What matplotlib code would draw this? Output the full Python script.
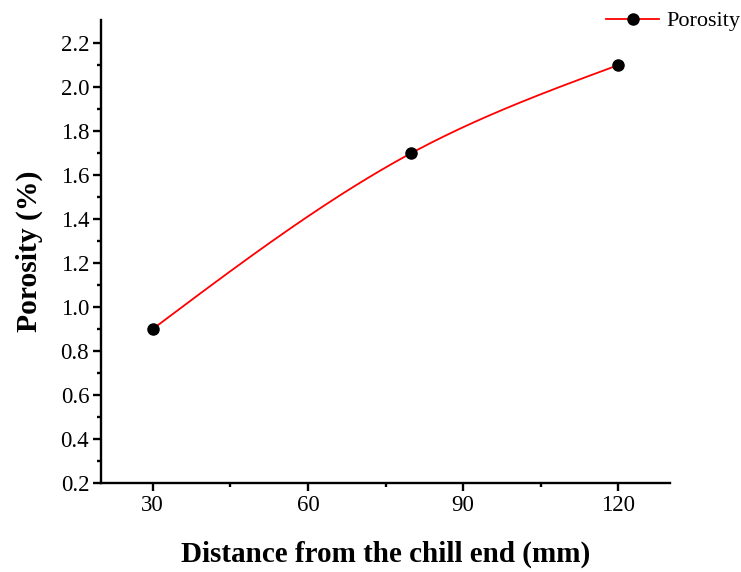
import numpy as np
import matplotlib
matplotlib.use("Agg")
import matplotlib.pyplot as plt

distance = [30, 80, 120]
porosity = [0.9, 1.7, 2.1]
x_ticks = [30, 60, 90, 120]
y_ticks = [0.2, 0.4, 0.6, 0.8, 1.0, 1.2, 1.4, 1.6, 1.8, 2.0, 2.2]

plt.rcParams['font.family'] = ['Liberation Serif', 'DejaVu Serif']


def natural_spline(x, y, xs):
    x = np.asarray(x, float)
    y = np.asarray(y, float)
    n = len(x)
    h = np.diff(x)
    A = np.zeros((n, n))
    b = np.zeros(n)
    A[0, 0] = A[-1, -1] = 1
    for i in range(1, n - 1):
        A[i, i - 1] = h[i - 1]
        A[i, i] = 2 * (h[i - 1] + h[i])
        A[i, i + 1] = h[i]
        b[i] = 3 * ((y[i + 1] - y[i]) / h[i] - (y[i] - y[i - 1]) / h[i - 1])
    c = np.linalg.solve(A, b)
    out = np.empty_like(xs)
    for k, xv in enumerate(xs):
        i = min(np.searchsorted(x, xv, side='right') - 1, n - 2)
        i = max(i, 0)
        dx = xv - x[i]
        bi = (y[i + 1] - y[i]) / h[i] - h[i] * (2 * c[i] + c[i + 1]) / 3
        di = (c[i + 1] - c[i]) / (3 * h[i])
        out[k] = y[i] + bi * dx + c[i] * dx ** 2 + di * dx ** 3
    return out


fig = plt.figure(figsize=(7.41, 5.72), dpi=100)
ax = fig.add_axes([101 / 741, 1 - 483 / 572, (670 - 101) / 741, (483 - 20) / 572])

xs = np.linspace(distance[0], distance[-1], 300)
ax.plot(xs, natural_spline(distance, porosity, xs), color='red', lw=1.3)
ax.plot(distance, porosity, 'o', color='black', ms=8)
handle, = ax.plot([], [], '-o', color='red', mfc='black', mec='black', ms=8, lw=1.3)

ax.set_xlim(20, 130)
ax.set_ylim(0.2, 2.305)
ax.set_xticks(x_ticks)
ax.set_xticks([45, 75, 105], minor=True)
ax.set_yticks(y_ticks)
ax.set_yticks(np.arange(0.3, 2.3, 0.2), minor=True)
ax.set_yticklabels([f"{v:.1f}" for v in y_ticks])

for s in ['top', 'right']:
    ax.spines[s].set_visible(False)
for s in ['left', 'bottom']:
    ax.spines[s].set_linewidth(1.7)
ax.tick_params(which='major', direction='out', length=5.5, width=1.7, labelsize=16.5, pad=3)
ax.tick_params(which='minor', direction='out', length=3, width=1.7)

ax.set_xlabel('Distance from the chill end (mm)', fontsize=21, fontweight='bold', labelpad=18)
ax.set_ylabel('Porosity (%)', fontsize=21.3, fontweight='bold', labelpad=13)

ax.legend([handle], ['Porosity'], loc='upper left', bbox_to_anchor=(597 / 741, 1 - 2 / 572),
          bbox_transform=fig.transFigure, frameon=False, fontsize=16,
          handlelength=2.4, handletextpad=0.3, borderaxespad=0)

fig.savefig('out.png', dpi=100)
